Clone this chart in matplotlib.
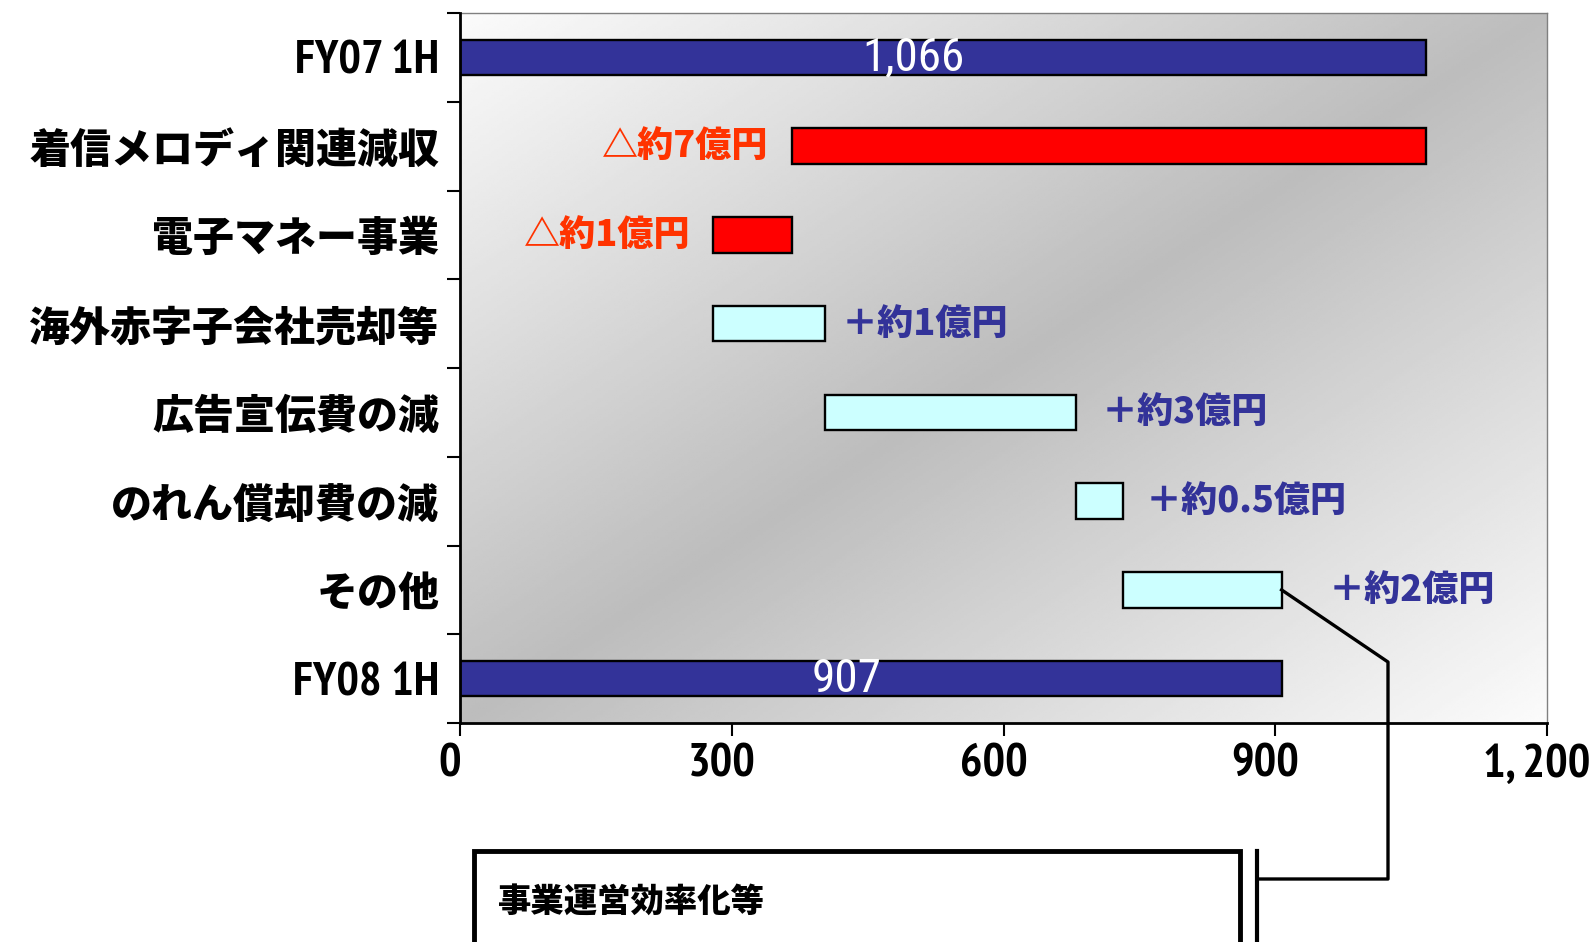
import numpy as np
import matplotlib
matplotlib.use("Agg")
import matplotlib.pyplot as plt
from matplotlib.patches import Rectangle
from matplotlib.lines import Line2D
from matplotlib.transforms import ScaledTranslation

# 営業利益の増減 (百万円)
categories = ["FY07 1H", "着信メロディ関連減収", "電子マネー事業", "海外赤字子会社売却等",
              "広告宣伝費の減", "のれん償却費の減", "その他", "FY08 1H"]
start_value = 1066
end_value = 907
deltas = [-700, -87, 124, 277, 52, 175]
delta_labels = ["△約7億円", "△約1億円", "＋約1億円", "＋約3億円", "＋約0.5億円", "＋約2億円"]
label_gaps = [25, 25, 18, 28, 25, 52]
xticks = [0, 300, 600, 900, 1200]
xtick_labels = ["0", "300", "600", "900", "1, 200"]

NAVY = "#333399"
RED = "#FF0000"
CYAN = "#CCFFFF"
RED_TEXT = "#FF3300"

NARROW = ["PT Sans Narrow", "DejaVu Sans"]
COND = ["Roboto Condensed", "DejaVu Sans"]
JP = ["Noto Sans CJK JP", "DejaVu Sans"]
JP_WEIGHT = 900

fig = plt.figure(figsize=(15.93, 9.42), dpi=100)
ax = fig.add_axes([460 / 1593, 1 - 723 / 942, 1087 / 1593, 710 / 942])
ax.set_xlim(0, 1200)
ax.set_ylim(7.5, -0.5)

# diagonal gradient fill of the plot area
gx, gy = np.meshgrid(np.linspace(0, 1, 400), np.linspace(0, 1, 300))
shade = 0.74 + 0.245 * np.abs(gx + gy - 1)
ax.imshow(shade, cmap="gray", vmin=0, vmax=1, extent=[0, 1, 0, 1],
          transform=ax.transAxes, aspect="auto", zorder=0, origin="upper")

bar_h = 0.4
edge = dict(edgecolor="black", linewidth=1.7, zorder=3)

# totals
ax.barh(0, start_value, height=bar_h, color=NAVY, **edge)
ax.barh(7, end_value, height=bar_h, color=NAVY, **edge)
ax.text(start_value * 0.47, 0, f"{start_value:,}", color="white", fontsize=34,
        family=COND, ha="center", va="center", zorder=4)
ax.text(end_value * 0.47, 7, f"{end_value:,}", color="white", fontsize=34,
        family=COND, ha="center", va="center", zorder=4)

# steps
level = start_value
for i, (d, lab, gap) in enumerate(zip(deltas, delta_labels, label_gaps)):
    row = i + 1
    new_level = level + d
    left = min(level, new_level)
    ax.barh(row, abs(d), left=left, height=bar_h, color=RED if d < 0 else CYAN, **edge)
    if d < 0:
        ax.text(left - gap, row, lab, color=RED_TEXT, fontsize=26, family=JP,
                weight=JP_WEIGHT, ha="right", va="center", zorder=4)
    else:
        ax.text(left + abs(d) + gap, row, lab, color=NAVY, fontsize=26, family=JP,
                weight=JP_WEIGHT, ha="left", va="center", zorder=4)
    level = new_level

# axes styling
for s in ["top", "right"]:
    ax.spines[s].set_color("#808080")
    ax.spines[s].set_linewidth(1)
for s in ["left", "bottom"]:
    ax.spines[s].set_linewidth(2)
    ax.spines[s].set_zorder(5)

ax.set_xticks(xticks, labels=xtick_labels)
ax.tick_params(axis="x", length=9, width=1.5, pad=6)
for lbl in ax.get_xticklabels():
    lbl.set_fontfamily(NARROW)
    lbl.set_fontsize(34)
    lbl.set_fontweight("bold")
    lbl.set_transform(lbl.get_transform() + ScaledTranslation(-10 / 100, 0, fig.dpi_scale_trans))

ax.set_yticks(np.arange(-0.5, 8, 1), labels=[])
ax.set_yticks(range(len(categories)), labels=categories, minor=True)
ax.tick_params(axis="y", which="major", length=9.5, width=1.5)
ax.tick_params(axis="y", which="minor", length=0, pad=15)
for lbl in ax.get_yticklabels(minor=True):
    if lbl.get_text().startswith("FY"):
        lbl.set_fontfamily(NARROW)
        lbl.set_fontsize(34)
        lbl.set_fontweight("bold")
    else:
        lbl.set_fontfamily(JP)
        lbl.set_fontsize(29.5)
        lbl.set_fontweight(JP_WEIGHT)

# callout to the note box
to_px_x = lambda px: (px - 460) / 1087 * 1200
to_px_y = lambda py: (py - 13) / 710 * 8 - 0.5
callout_x = [end_value, to_px_x(1388), to_px_x(1388), to_px_x(1257)]
callout_y = [6, to_px_y(662), to_px_y(879), to_px_y(879)]
ax.add_line(Line2D(callout_x, callout_y, color="black", linewidth=2.4, clip_on=False, zorder=6))
ax.add_line(Line2D([to_px_x(1257)] * 2, [to_px_y(851), to_px_y(960)], color="black",
                   linewidth=3, clip_on=False, zorder=6))
ax.add_patch(Rectangle((to_px_x(474), to_px_y(851)), to_px_x(1240) - to_px_x(474),
                       to_px_y(960) - to_px_y(851), facecolor="white", edgecolor="black",
                       linewidth=3.5, clip_on=False, zorder=6))
ax.text(to_px_x(498), to_px_y(901), "事業運営効率化等", fontsize=24, family=JP, weight=JP_WEIGHT,
        ha="left", va="center", clip_on=False, zorder=7)

fig.savefig("out.png", dpi=100)
